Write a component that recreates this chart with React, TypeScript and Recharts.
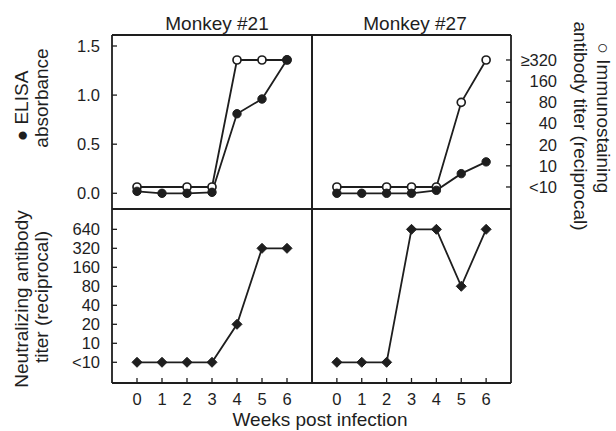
import React from 'react';
import { LineChart, Line, XAxis, YAxis } from 'recharts';

const weeks = [0, 1, 2, 3, 4, 5, 6];
// ELISA absorbance (filled circles)
const elisa21 = [0.02, 0.0, 0.0, 0.01, 0.81, 0.96, 1.36];
const elisa27 = [0.0, 0.0, 0.0, 0.0, 0.03, 0.2, 0.32];
// immunostaining titer (open circles); 5 means "<10", null = no sample
const immuno21 = [5, null, 5, 5, 320, 320, 320];
const immuno27 = [5, null, 5, 5, 5, 80, 320];
// neutralizing antibody titer (diamonds); 5 means "<10"
const neut21 = [5, 5, 5, 5, 20, 320, 320];
const neut27 = [5, 5, 5, 640, 640, 80, 640];

const elisaTicks = [0, 0.5, 1.0, 1.5];
const immunoLabels = ['<10', '10', '20', '40', '80', '160', '≥320'];
const neutLabels = ['<10', '10', '20', '40', '80', '160', '320', '640'];

const W = 616;
const H = 431;
const INK = '#1e1e1e';
const FONT = '"Liberation Sans", Arial, sans-serif';

// titer -> two-fold dilution step above "<10"
const level = (v: number | null) => (v == null ? null : Math.log2(v / 5));

const topData = (elisa: number[], immuno: (number | null)[]) =>
  weeks.map((w, i) => ({ week: w, elisa: elisa[i], immuno: level(immuno[i]) }));
const bottomData = (neut: number[]) => weeks.map((w, i) => ({ week: w, neut: level(neut[i]) }));

const ELISA_DOMAIN = [-0.16, 1.612];
const IMMUNO_DOMAIN = [-1.04, 7.18];
const NEUT_DOMAIN = [-1.09, 8.07];

const axisLine = { stroke: INK, strokeWidth: 1.8 };
const tickLine = { stroke: INK, strokeWidth: 1.3 };
const tickText = { fill: INK, fontSize: 16.5, fontFamily: FONT };

const Diamond = (props: any) => {
  const { cx, cy } = props;
  if (cx == null || cy == null) return null;
  return <path d={`M${cx},${cy - 5}L${cx + 5},${cy}L${cx},${cy + 5}L${cx - 5},${cy}Z`} fill={INK} stroke={INK} />;
};

const RightTick = (props: any) => {
  const { x, y, payload } = props;
  return (
    <text x={x} y={y} dy="0.36em" textAnchor="end" fill={INK} fontSize={16.5} fontFamily={FONT}>
      {immunoLabels[payload.value]}
    </text>
  );
};

type Box = { left: number; top: number; right: number; bottom: number };

function Panel({ box, data, kind, leftLabels, rightLabels, xLabels }: {
  box: Box; data: any[]; kind: 'top' | 'bottom'; leftLabels: boolean; rightLabels: boolean; xLabels: boolean;
}) {
  const yw = 30;
  const xh = 30;
  const margin = { top: box.top - 1, bottom: H - box.bottom - xh, left: box.left - yw, right: W - box.right - yw };
  const leftDomain = kind === 'top' ? ELISA_DOMAIN : NEUT_DOMAIN;
  const rightDomain = kind === 'top' ? IMMUNO_DOMAIN : NEUT_DOMAIN;
  const leftTicks = kind === 'top' ? elisaTicks : neutLabels.map((_, i) => i);
  const rightTicks = kind === 'top' ? immunoLabels.map((_, i) => i) : neutLabels.map((_, i) => i);
  return (
    <div style={{ position: 'absolute', left: 0, top: 0 }}>
      <LineChart width={W} height={H} data={data} margin={margin}>
        <XAxis xAxisId="top" orientation="top" dataKey="week" type="number" domain={[-1, 7]} height={1}
          tick={false} tickLine={false} axisLine={axisLine} />
        <XAxis dataKey="week" type="number" domain={[-1, 7]} ticks={weeks} interval={0} height={xh}
          axisLine={axisLine} tickLine={tickLine} tickSize={-5} tickMargin={15}
          tick={xLabels ? tickText : false} />
        <YAxis yAxisId="left" type="number" domain={leftDomain} ticks={leftTicks} allowDataOverflow width={yw}
          interval={0} axisLine={axisLine} tickLine={tickLine} tickSize={-5} tickMargin={17}
          tick={leftLabels ? tickText : false}
          tickFormatter={(v: number) => (kind === 'top' ? v.toFixed(1) : neutLabels[v])} />
        <YAxis yAxisId="right" orientation="right" type="number" domain={rightDomain} ticks={rightTicks}
          allowDataOverflow width={yw} interval={0} axisLine={axisLine}
          tickLine={kind === 'bottom' && box.right > 400 ? false : tickLine} tickSize={-5} tickMargin={51}
          tick={rightLabels ? <RightTick /> : false} />
        {kind === 'top' && (
          <Line yAxisId="right" dataKey="immuno" stroke={INK} strokeWidth={1.8} connectNulls isAnimationActive={false}
            dot={{ r: 4, fill: '#fff', stroke: INK, strokeWidth: 1.7 }} />
        )}
        {kind === 'top' && (
          <Line yAxisId="left" dataKey="elisa" stroke={INK} strokeWidth={1.8} isAnimationActive={false}
            dot={{ r: 4.2, fill: INK, stroke: INK, strokeWidth: 1 }} />
        )}
        {kind === 'bottom' && (
          <Line yAxisId="left" dataKey="neut" stroke={INK} strokeWidth={1.8} isAnimationActive={false}
            dot={<Diamond />} />
        )}
      </LineChart>
    </div>
  );
}

const Txt = ({ x, y, rot = 0, children }: { x: number; y: number; rot?: number; children: React.ReactNode }) => (
  <div style={{
    position: 'absolute', left: x, top: y, transform: `translate(-50%, -50%) rotate(${rot}deg)`,
    whiteSpace: 'nowrap', fontSize: 19, lineHeight: 1, color: INK, fontFamily: FONT,
  }}>{children}</div>
);

export default function App() {
  return (
    <div style={{ position: 'absolute', left: 0, top: 0, width: W, height: H, background: '#fff', fontFamily: FONT }}>
      <Panel box={{ left: 112, top: 35, right: 312, bottom: 209 }} data={topData(elisa21, immuno21)} kind="top"
        leftLabels rightLabels={false} xLabels={false} />
      <Panel box={{ left: 312, top: 35, right: 511, bottom: 209 }} data={topData(elisa27, immuno27)} kind="top"
        leftLabels={false} rightLabels xLabels={false} />
      <Panel box={{ left: 112, top: 209, right: 312, bottom: 383 }} data={bottomData(neut21)} kind="bottom"
        leftLabels rightLabels={false} xLabels />
      <Panel box={{ left: 312, top: 209, right: 511, bottom: 383 }} data={bottomData(neut27)} kind="bottom"
        leftLabels={false} rightLabels={false} xLabels />

      <Txt x={217} y={23}>Monkey #21</Txt>
      <Txt x={415} y={23}>Monkey #27</Txt>
      <Txt x={320} y={419}>Weeks post infection</Txt>

      <Txt x={21} y={106} rot={-90}>● ELISA</Txt>
      <Txt x={41} y={98} rot={-90}>absorbance</Txt>
      <Txt x={21} y={299} rot={-90}>Neutralizing antibody</Txt>
      <Txt x={41} y={297} rot={-90}>titer (reciprocal)</Txt>

      <Txt x={603} y={118} rot={90}>○ Immunostaining</Txt>
      <Txt x={580} y={126} rot={90}>antibody titer (reciprocal)</Txt>
    </div>
  );
}
